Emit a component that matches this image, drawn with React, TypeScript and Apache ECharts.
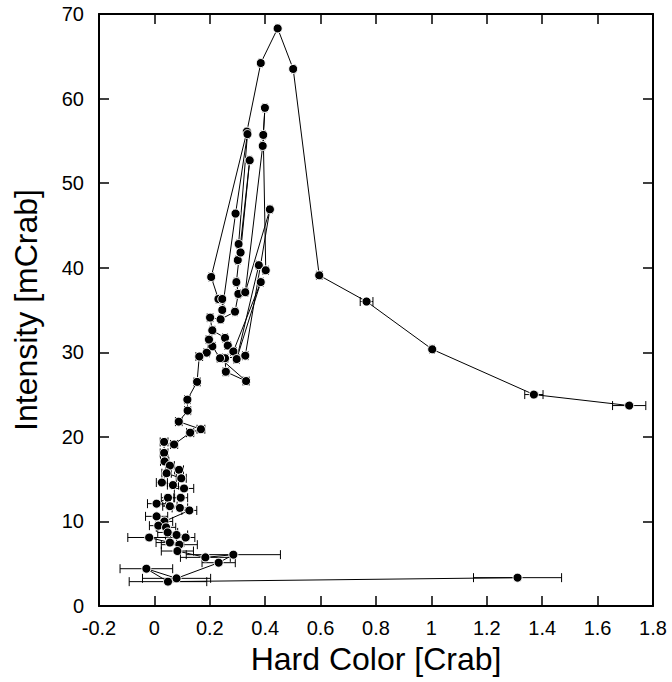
import React, { useEffect, useRef } from "react";
import * as echarts from "echarts";

// Time-ordered track: hard colour [Crab], intensity [mCrab], hard-colour error
const hardColor = [
  1.714, 1.37, 1.003, 0.766, 0.595, 0.501, 0.445, 0.384, 0.334, 0.205,
  0.231, 0.245, 0.245, 0.293, 0.336, 0.304, 0.301, 0.311, 0.344, 0.296,
  0.303, 0.291, 0.239, 0.201, 0.209, 0.255, 0.265, 0.285, 0.384, 0.297,
  0.377, 0.402, 0.393, 0.399, 0.391, 0.328, 0.417, 0.328, 0.255, 0.258,
  0.331, 0.237, 0.209, 0.197, 0.189, 0.162, 0.154, 0.119, 0.12, 0.088,
  0.168, 0.129, 0.071, 0.035, 0.035, 0.037, 0.056, 0.089, 0.097, 0.044,
  0.027, 0.067, 0.107, 0.095, 0.049, 0.008, 0.056, 0.092, 0.126, 0.036,
  0.008, 0.014, 0.042, 0.048, 0.08, 0.113, -0.019, 0.056, 0.09, 0.083,
  0.184, 0.285, 0.232, 0.08, -0.029, 0.049, 1.311,
];
const intensity = [
  23.7, 25.0, 30.35, 36.0, 39.1, 63.5, 68.3, 64.2, 56.1, 38.9,
  36.3, 36.3, 35.0, 46.4, 55.8, 42.8, 40.9, 41.8, 52.7, 38.3,
  36.9, 34.8, 33.9, 34.1, 32.6, 31.7, 30.8, 30.1, 38.3, 29.2,
  40.3, 39.7, 55.7, 58.9, 54.4, 37.1, 46.9, 29.6, 29.3, 27.7,
  26.6, 29.3, 30.7, 31.5, 29.95, 29.5, 26.5, 24.4, 23.1, 21.8,
  20.9, 20.5, 19.1, 19.4, 18.1, 17.1, 16.6, 16.1, 15.1, 15.7,
  14.6, 14.3, 13.9, 12.8, 12.8, 12.1, 11.8, 11.6, 11.3, 10.0,
  10.6, 9.5, 9.3, 8.7, 8.4, 8.1, 8.1, 7.5, 7.25, 6.5,
  5.75, 6.07, 5.12, 3.27, 4.41, 2.88, 3.35,
];
const hardColorErr = [
  0.06, 0.033, 0.008, 0.023, 0.01, 0.006, 0.006, 0.006, 0.006, 0.008,
  0.008, 0.008, 0.008, 0.007, 0.007, 0.007, 0.008, 0.007, 0.007, 0.008,
  0.008, 0.008, 0.008, 0.01, 0.009, 0.009, 0.01, 0.01, 0.009, 0.01,
  0.009, 0.01, 0.007, 0.007, 0.007, 0.009, 0.008, 0.01, 0.01, 0.01,
  0.011, 0.01, 0.01, 0.01, 0.01, 0.012, 0.011, 0.01, 0.011, 0.012,
  0.014, 0.013, 0.013, 0.014, 0.014, 0.015, 0.016, 0.016, 0.018, 0.017,
  0.02, 0.02, 0.035, 0.025, 0.024, 0.033, 0.026, 0.028, 0.027, 0.03,
  0.04, 0.032, 0.035, 0.036, 0.04, 0.033, 0.077, 0.05, 0.065, 0.058,
  0.09, 0.17, 0.06, 0.123, 0.095, 0.14, 0.159,
];

const xMin = -0.2;
const xMax = 1.8;
const xStep = 0.2;
const yMin = 0;
const yMax = 70;
const yStep = 10;

const xTitle = "Hard Color [Crab]";
const yTitle = "Intensity [mCrab]";

const FONT = "'Liberation Sans', Arial, Helvetica, sans-serif";

export default function App() {
  const ref = useRef<HTMLDivElement>(null);

  useEffect(() => {
    document.body.style.margin = "0";
    if (!ref.current) return;
    const chart = echarts.init(ref.current, undefined, { renderer: "svg" });

    const points = hardColor.map((x, i) => [x, intensity[i]]);
    const errRows = hardColor.map((x, i) => [x, intensity[i], hardColorErr[i]]);

    const axisLine = { show: true, onZero: false, lineStyle: { color: "#000", width: 2 } };
    const axisTick = { show: true, inside: true, length: 10, lineStyle: { color: "#000", width: 1.5 } };
    const labelStyle = { color: "#000", fontSize: 20, fontFamily: FONT };

    const option: any = {
      animation: false,
      backgroundColor: "#fff",
      grid: {
        left: 99,
        right: 19,
        top: 14,
        bottom: 76,
        containLabel: false,
        outerBoundsMode: "none",
      },
      xAxis: [
        {
          type: "value",
          min: xMin,
          max: xMax,
          interval: xStep,
          position: "bottom",
          axisLine,
          axisTick,
          splitLine: { show: false },
          axisLabel: { ...labelStyle, margin: 12 },
          name: xTitle,
          nameLocation: "middle",
          nameGap: 33,
          nameTextStyle: { color: "#000", fontSize: 32, fontFamily: FONT },
        },
        {
          type: "value",
          min: xMin,
          max: xMax,
          interval: xStep,
          position: "top",
          axisLine,
          axisTick,
          splitLine: { show: false },
          axisLabel: { show: false },
        },
      ],
      yAxis: [
        {
          type: "value",
          min: yMin,
          max: yMax,
          interval: yStep,
          position: "left",
          axisLine,
          axisTick,
          splitLine: { show: false },
          axisLabel: { ...labelStyle, margin: 15 },
          name: yTitle,
          nameLocation: "middle",
          nameRotate: 90,
          nameGap: 57,
          nameTextStyle: { color: "#000", fontSize: 32, fontFamily: FONT },
        },
        {
          type: "value",
          min: yMin,
          max: yMax,
          interval: yStep,
          position: "right",
          axisLine,
          axisTick,
          splitLine: { show: false },
          axisLabel: { show: false },
        },
      ],
      series: [
        {
          type: "custom",
          xAxisIndex: 0,
          yAxisIndex: 0,
          silent: true,
          z: 1,
          encode: { x: 0, y: 1 },
          data: errRows,
          renderItem: (_params: any, api: any) => {
            const x = api.value(0);
            const y = api.value(1);
            const e = api.value(2);
            const p1 = api.coord([x - e, y]);
            const p2 = api.coord([x + e, y]);
            const h = 4.5;
            const style = { stroke: "#000", lineWidth: 1 };
            return {
              type: "group",
              children: [
                { type: "line", shape: { x1: p1[0], y1: p1[1], x2: p2[0], y2: p2[1] }, style },
                { type: "line", shape: { x1: p1[0], y1: p1[1] - h, x2: p1[0], y2: p1[1] + h }, style },
                { type: "line", shape: { x1: p2[0], y1: p2[1] - h, x2: p2[0], y2: p2[1] + h }, style },
              ],
            };
          },
        },
        {
          type: "line",
          xAxisIndex: 0,
          yAxisIndex: 0,
          data: points,
          z: 3,
          silent: true,
          symbol: "circle",
          symbolSize: 9,
          showSymbol: true,
          itemStyle: { color: "#000", borderColor: "#fff", borderWidth: 1 },
          lineStyle: { color: "#000", width: 1 },
          emphasis: { disabled: true },
        },
      ],
    };

    chart.setOption(option);
    return () => chart.dispose();
  }, []);

  return <div ref={ref} style={{ width: 672, height: 682 }} />;
}
